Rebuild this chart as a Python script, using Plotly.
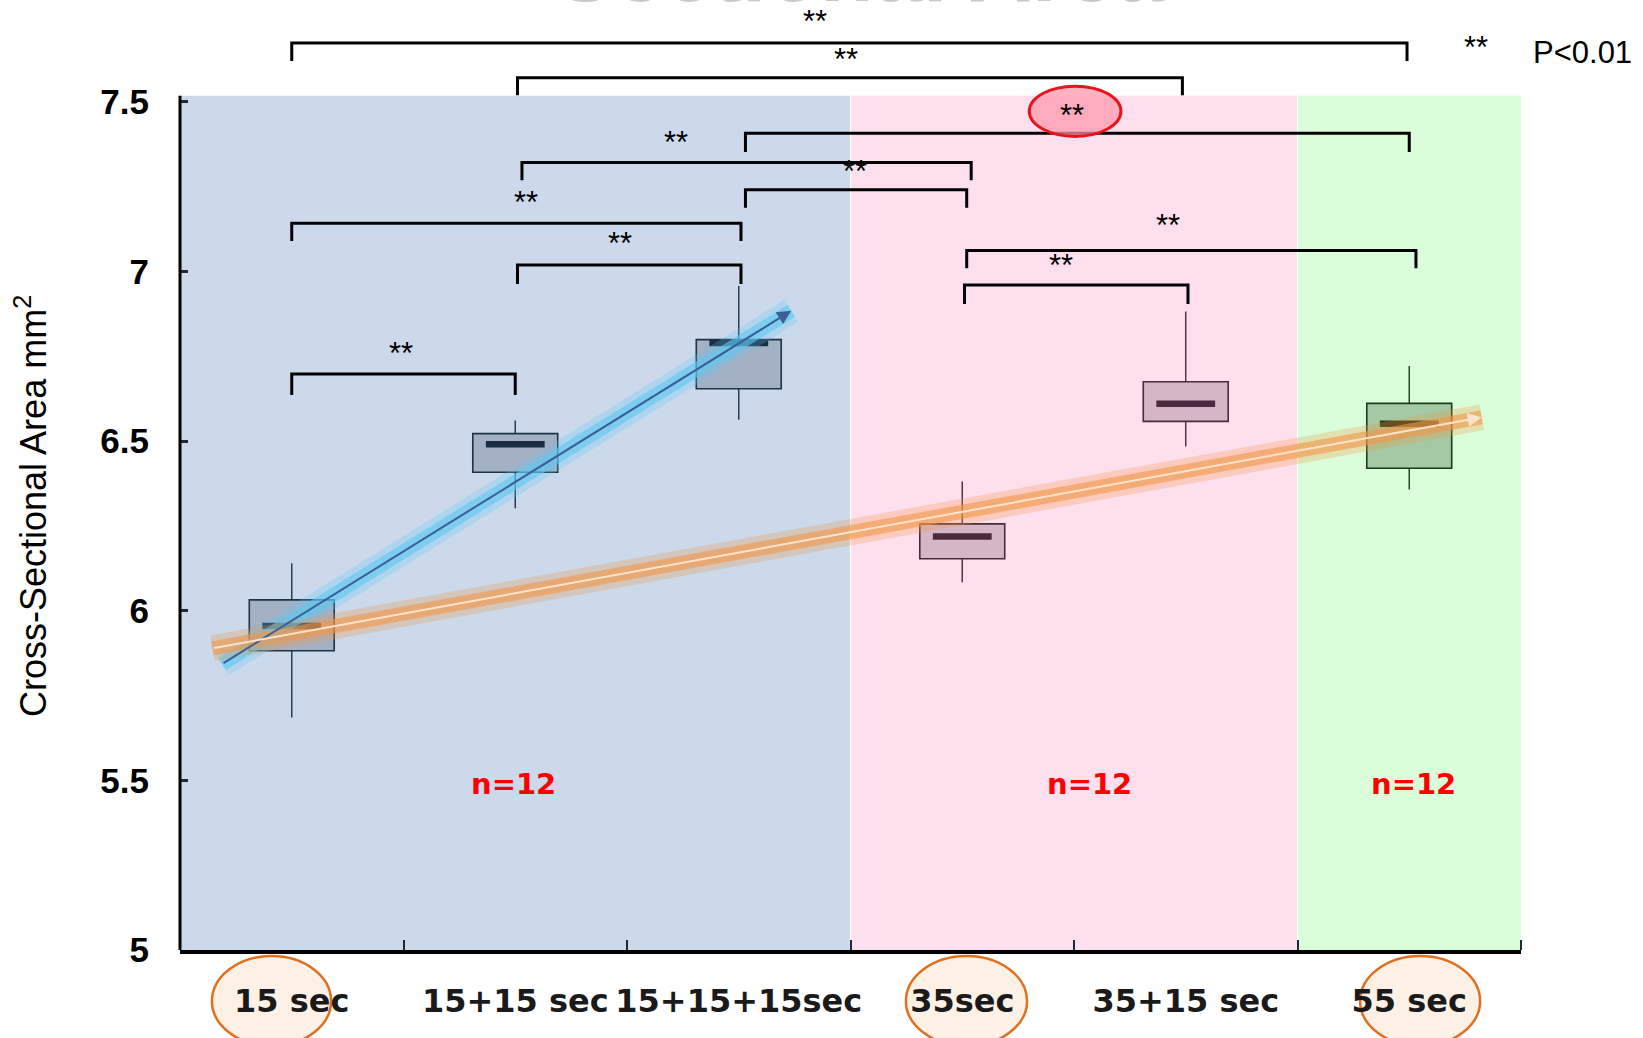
import plotly.graph_objects as go

# ---------------- data ----------------
categories = ["15 sec", "15+15 sec", "15+15+15sec", "35sec", "35+15 sec", "55 sec"]
cat_pos = [0.5, 1.5, 2.5, 3.5, 4.5, 5.5]
q1 = [5.882, 6.408, 6.654, 6.153, 6.558, 6.420]
q3 = [6.032, 6.522, 6.799, 6.256, 6.675, 6.611]
median = [5.955, 6.491, 6.789, 6.219, 6.610, 6.551]
whisk_low = [5.685, 6.302, 6.563, 6.084, 6.484, 6.357]
whisk_high = [6.140, 6.561, 6.957, 6.381, 6.882, 6.721]

box_fill = ["#a4b1c4", "#a4b1c4", "#a4b1c4", "#d5b6c6", "#d5b6c6", "#a4c9a4"]
box_line = ["#1e3348", "#1e3348", "#1e3348", "#4a2b3d", "#4a2b3d", "#1b3b1b"]
median_col = ["#1b2d42", "#1b2d42", "#1b2d42", "#4a2a3c", "#4a2a3c", "#2f3510"]

# group backgrounds
bg_x0 = [0, 3, 5]
bg_x1 = [3, 5, 6]
bg_col = ["#cbd9eb", "#fedfee", "#dafdda"]
bg_top = 7.518

# trend arrows
blue_trend_x = [0.188, 2.735]
blue_trend_y = [5.843, 6.884]
orange_trend_x = [0.145, 5.824]
orange_trend_y = [5.889, 6.570]

# significance brackets
br_left = [0.5, 1.51, 2.53, 1.53, 2.53, 0.5, 3.52, 1.51, 3.51, 0.5]
br_right = [5.49, 4.485, 5.50, 3.54, 3.52, 2.51, 5.53, 2.51, 4.51, 1.5]
br_y = [7.673, 7.571, 7.407, 7.321, 7.241, 7.142, 7.062, 7.019, 6.960, 6.698]
br_leg = [7.620, 7.519, 7.352, 7.269, 7.188, 7.090, 7.009, 6.963, 6.904, 6.636]
star_x = [2.84, 2.98, 3.99, 2.22, 3.02, 1.55, 4.42, 1.97, 3.94, 0.99]
star_y = [7.737, 7.626, 7.459, 7.379, 7.296, 7.203, 7.135, 7.083, 7.018, 6.759]

n_x = [1.49, 4.07, 5.52]
n_y = [5.49, 5.49, 5.49]
n_text = ["n=12", "n=12", "n=12"]

y_ticks = [5, 5.5, 6, 6.5, 7, 7.5]
y_ticktext = ["5", "5.5", "6", "6.5", "7", "7.5"]

# ---------------- figure ----------------
fig = go.Figure()

# box bodies
fig.add_trace(go.Bar(
    x=cat_pos, base=q1, y=[b - a for a, b in zip(q1, q3)], width=0.38,
    marker=dict(color=box_fill, line=dict(color=box_line, width=1.6)),
    hoverinfo="skip", showlegend=False,
))

# whiskers
for i in range(len(cat_pos)):
    fig.add_trace(go.Scatter(
        x=[cat_pos[i], cat_pos[i], None, cat_pos[i], cat_pos[i]],
        y=[q3[i], whisk_high[i], None, q1[i], whisk_low[i]],
        mode="lines", line=dict(color=box_line[i], width=1.4),
        hoverinfo="skip", showlegend=False,
    ))

# medians
fig.add_trace(go.Scatter(
    x=cat_pos, y=median, mode="markers",
    marker=dict(symbol="line-ew", size=42, color=median_col,
                line=dict(color=median_col, width=6.5)),
    hoverinfo="skip", showlegend=False,
))

# glow of trends
for xs, ys, col, a1, a2 in [(blue_trend_x, blue_trend_y, "rgba(90,200,242,{})", 0.25, 0.6),
                            (orange_trend_x, orange_trend_y, "rgba(242,150,70,{})", 0.28, 0.6)]:
    fig.add_trace(go.Scatter(x=xs, y=ys, mode="lines",
                             line=dict(color=col.format(a1), width=26),
                             hoverinfo="skip", showlegend=False))
    fig.add_trace(go.Scatter(x=xs, y=ys, mode="lines",
                             line=dict(color=col.format(a2), width=14),
                             hoverinfo="skip", showlegend=False))

shapes = []
for x0, x1, c in zip(bg_x0, bg_x1, bg_col):
    shapes.append(dict(type="rect", xref="x", yref="y", x0=x0, x1=x1, y0=5, y1=bg_top,
                       fillcolor=c, line=dict(width=0), layer="below"))
for xv in [3, 5]:
    shapes.append(dict(type="line", xref="x", yref="y", x0=xv, x1=xv, y0=5, y1=bg_top,
                       line=dict(color="white", width=1.2), layer="below"))
# y axis line
shapes.append(dict(type="line", xref="paper", yref="y", x0=0, x1=0, y0=5, y1=bg_top,
                   line=dict(color="black", width=3)))
# brackets
for l, r, y, lg in zip(br_left, br_right, br_y, br_leg):
    shapes.append(dict(type="path", xref="x", yref="y",
                       path=f"M {l},{lg} L {l},{y} L {r},{y} L {r},{lg}",
                       line=dict(color="black", width=3)))
# red highlight ellipse
shapes.append(dict(type="circle", xref="x", yref="y", x0=3.80, x1=4.21, y0=7.398, y1=7.546,
                   fillcolor="rgba(255,150,170,0.72)", line=dict(color="#e8141c", width=3)))
# orange ellipses around labels
for x0, x1 in [(0.143, 0.676), (3.248, 3.79), (5.28, 5.817)]:
    shapes.append(dict(type="circle", xref="x", yref="paper", x0=x0, x1=x1, y0=-0.101, y1=-0.0063,
                       fillcolor="#fdf1e6", line=dict(color="#e07020", width=2.5), layer="below"))

annotations = []
annotations.append(dict(x=blue_trend_x[1], y=blue_trend_y[1], ax=blue_trend_x[0], ay=blue_trend_y[0],
                        xref="x", yref="y", axref="x", ayref="y", text="", showarrow=True,
                        arrowhead=2, arrowsize=1.4, arrowwidth=2, arrowcolor="#3a5e96", standoff=0))
annotations.append(dict(x=orange_trend_x[1], y=orange_trend_y[1], ax=orange_trend_x[0], ay=orange_trend_y[0],
                        xref="x", yref="y", axref="x", ayref="y", text="", showarrow=True,
                        arrowhead=2, arrowsize=1.4, arrowwidth=2, arrowcolor="#fde3cc", standoff=0))
for sx, sy in zip(star_x, star_y):
    annotations.append(dict(x=sx, y=sy, xref="x", yref="y", text="**", showarrow=False,
                            xanchor="center", yanchor="middle",
                            font=dict(family="Liberation Sans", size=31, color="black")))
for nx, ny, nt in zip(n_x, n_y, n_text):
    annotations.append(dict(x=nx, y=ny, xref="x", yref="y", text=f"<b>{nt}</b>", showarrow=False,
                            xanchor="center", yanchor="middle",
                            font=dict(family="DejaVu Sans", size=29, color="#ff0000")))
annotations.append(dict(x=(1476 - 180) / 1341, y=(950 - 48) / 950, xref="paper", yref="paper",
                        text="**", showarrow=False, xanchor="center", yanchor="middle",
                        font=dict(family="Liberation Sans", size=31, color="black")))
annotations.append(dict(x=(1582 - 180) / 1341, y=(950 - 52) / 950, xref="paper", yref="paper",
                        text="P<0.01", showarrow=False, xanchor="center", yanchor="middle",
                        font=dict(family="Liberation Sans", size=31, color="black")))
annotations.append(dict(x=(31 - 180) / 1341, y=(950 - 506) / 950, xref="paper", yref="paper",
                        text="Cross-Sectional Area mm<sup>2</sup>", textangle=-90, showarrow=False,
                        xanchor="center", yanchor="middle",
                        font=dict(family="Liberation Sans", size=36, color="black")))
annotations.append(dict(x=(860 - 180) / 1341, y=(950 - 22) / 950, xref="paper", yref="paper",
                        xanchor="center", yanchor="bottom", text="<b>Sectional Area</b>", showarrow=False,
                        font=dict(family="Liberation Sans", size=88, color="#c9c9c9")))

fig.update_layout(
    width=1643, height=1038,
    margin=dict(l=180, r=122, t=0, b=88),
    paper_bgcolor="white", plot_bgcolor="rgba(0,0,0,0)",
    showlegend=False, barmode="overlay",
    shapes=shapes, annotations=annotations,
    xaxis=dict(range=[0, 6], tickvals=cat_pos, ticktext=categories, ticks="",
               showgrid=False, zeroline=False, showline=True, linecolor="black", linewidth=4,
               tickfont=dict(family="DejaVu Sans", size=32, color="#1a1a1a", weight="bold"),
               ticklabelstandoff=20,
               minor=dict(tickvals=[1, 2, 3, 4, 5, 6], ticks="inside", ticklen=10,
                          tickwidth=2, tickcolor="#1e2a3a", showgrid=False)),
    yaxis=dict(range=[5, 7.8], tickvals=y_ticks, ticktext=y_ticktext, ticks="inside",
               ticklen=8, tickwidth=3, tickcolor="#1e2a3a", showgrid=False, zeroline=False,
               showline=False,
               tickfont=dict(family="Liberation Sans", size=35, color="black", weight="bold"),
               ticklabelstandoff=30),
)

fig.write_html("out.html", config={"displayModeBar": False},
               post_script="document.body.style.margin='0';document.body.style.overflow='hidden';")
